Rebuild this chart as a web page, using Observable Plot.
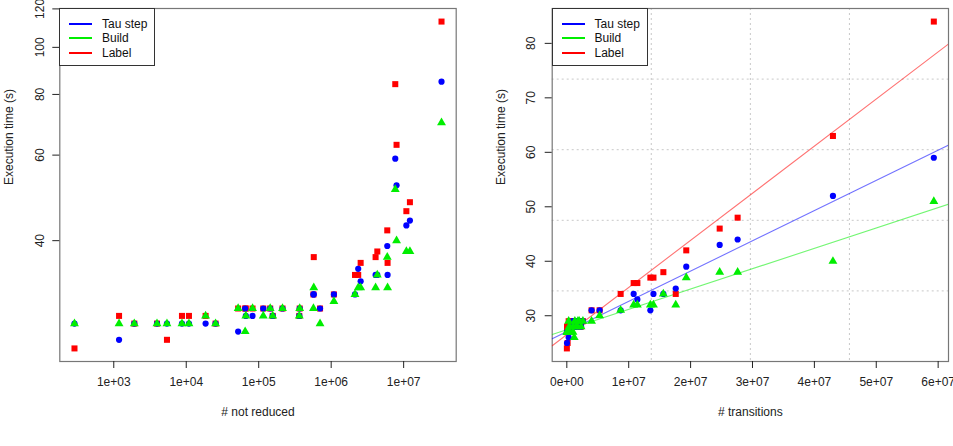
<!DOCTYPE html>
<html>
<head>
<meta charset="utf-8">
<script src="https://cdn.jsdelivr.net/npm/d3@7"></script>
<script src="https://cdn.jsdelivr.net/npm/@observablehq/plot@0.6"></script>
<style>
  body { margin: 0; background: #fff; font-family: "Liberation Sans", Arial, sans-serif; }
  #wrap { position: relative; width: 953px; height: 446px; overflow: hidden; }
  .panel { position: absolute; top: 0; }
  .legend { position: absolute; top: 8px; width: 96px; height: 58px; border: 1px solid #333;
            background: #fff; box-sizing: border-box; font-size: 12px; color: #111; }
  .legend .row { position: absolute; left: 9px; height: 14px; display: flex; align-items: center; }
  .legend .sw { width: 23px; height: 2px; margin-right: 10px; }
</style>
</head>
<body>
<div id="wrap"></div>
<script>
// One entry per benchmark run
const notReduced = [287, 1183, 1920, 3950, 5420, 8730, 10900, 18500, 25400, 52000, 66400, 65000,
  82200, 115600, 144000, 156000, 213000, 368000, 363000, 569000, 575000, 702000, 1090000,
  2130000, 2360000, 2550000, 4100000, 4330000, 5940000, 6000000, 7660000, 7980000,
  10900000, 12200000, 33300000];
const transitions = [1e4, 3e4, 5e4, 1e5, 1.3e5, 2e5, 2.5e5, 4e5, 5e5, 3e5, 1.0e6, 1.2e6,
  1.3e6, 1.5e6, 1.8e6, 1.7e6, 2.0e6, 2.6e6, 2.3e6, 4.0e6, 1.35e7, 1.0e6, 5.3e6,
  8.7e6, 1.76e7, 1.14e7, 1.40e7, 1.56e7, 1.93e7, 1.08e7, 5.93e7, 4.30e7,
  2.47e7, 2.76e7, null];
const tauStep = [27, 25, 27, 27, 27, 27, 27, 27, 27, 26, 28, 29, 28, 29, 29, 28, 29, 29, 28,
  31, 31, 29, 31, 31, 35, 33, 34, 34, 39, 34, 59, 52, 43, 44, 85];
const build = [27, 27, 27, 27, 27, 27, 27, 28, 27, 29, 28, 26, 29, 28, 29, 28, 29, 29, 28,
  29, 32, 27, 30, 31, 32, 32, 32, 34, 37, 32, 51, 40, 38, 38, 70];
const label = [24, 28, 27, 27, 25, 28, 28, 28, 27, 29, 29, 29, 29, 29, 29, 28, 29, 29, 28,
  31, 37, 29, 31, 34, 34, 36, 37, 38, 42, 36, 84, 63, 46, 48, 113];

const seriesNames = ["Tau step", "Build", "Label"];
const seriesColors = ["blue", "#00ee00", "red"];
const seriesSymbols = ["circle", "triangle", "square"];

const leftXTicks = [1e3, 1e4, 1e5, 1e6, 1e7];
const leftXTickLabels = ["1e+03", "1e+04", "1e+05", "1e+06", "1e+07"];
const leftYTicks = [40, 60, 80, 100, 120];
const rightXTicks = [0, 1e7, 2e7, 3e7, 4e7, 5e7, 6e7];
const rightXTickLabels = ["0e+00", "1e+07", "2e+07", "3e+07", "4e+07", "5e+07", "6e+07"];
const rightYTicks = [30, 40, 50, 60, 70, 80];

const yLabel = "Execution time (s)";
const leftXLabel = "# not reduced";
const rightXLabel = "# transitions";

const runs = notReduced.map((nr, i) => ({
  nr, tr: transitions[i], tau: tauStep[i], build: build[i], label: label[i]
}));
const runsWithTr = runs.filter(d => d.tr != null);
const keys = ["tau", "build", "label"];

// R-style axis range: data extent padded by 4% on each side
function pad(lo, hi) { const r = hi - lo; return [lo - 0.04 * r, hi + 0.04 * r]; }
function padLog(lo, hi) { return pad(Math.log10(lo), Math.log10(hi)).map(v => 10 ** v); }

const allTimesLeft = runs.flatMap(d => keys.map(k => d[k]));
const allTimesRight = runsWithTr.flatMap(d => keys.map(k => d[k]));
const lxDom = padLog(d3.min(notReduced), d3.max(notReduced));
const lyDom = padLog(d3.min(allTimesLeft), d3.max(allTimesLeft));
const rxDom = pad(d3.min(runsWithTr, d => d.tr), d3.max(runsWithTr, d => d.tr));
const ryDom = pad(d3.min(allTimesRight), d3.max(allTimesRight));

const font = "Liberation Sans, Arial, sans-serif";
const style = { fontFamily: font, fontSize: "12px", color: "#222", background: "white", overflow: "visible" };
const H = 446;

// Draw order: Label, then Tau step, then Build on top
const drawOrder = [2, 0, 1];
const symR = { circle: 3.1, square: 3.4, triangle: 3.3 };

function pointMarks(data, xKey) {
  return drawOrder.map(s => Plot.dot(data, {
    x: xKey, y: keys[s], symbol: seriesSymbols[s], fill: seriesColors[s],
    r: symR[seriesSymbols[s]], stroke: null
  }));
}

// Left panel: log-log
const left = Plot.plot({
  width: 476, height: H,
  marginLeft: 59.3, marginRight: 20.3, marginTop: 8, marginBottom: 85,
  style,
  x: { type: "log", domain: lxDom },
  y: { type: "log", domain: lyDom },
  marks: [
    Plot.frame({ stroke: "#777", strokeWidth: 1.2 }),
    Plot.axisX({ ticks: leftXTicks, tickSize: 7, tickPadding: 9, fontSize: 12, label: null,
      tickFormat: d => leftXTickLabels[leftXTicks.indexOf(d)] }),
    Plot.axisY({ ticks: leftYTicks, tickSize: 7, tickFormat: () => "", label: null }),
    Plot.text(leftYTicks, { x: lxDom[0], y: d => d, text: d => String(d), rotate: -90,
      dx: -20, fontSize: 12, textAnchor: "middle", lineAnchor: "middle", clip: false }),
    Plot.text([yLabel], { frameAnchor: "left", dx: -51, rotate: -90, fontSize: 12, lineAnchor: "middle" }),
    Plot.text([leftXLabel], { frameAnchor: "bottom", dy: 50.7, fontSize: 12, lineAnchor: "middle" }),
    ...pointMarks(runs, "nr")
  ]
});

// Least-squares line for each series
function fit(key) {
  const mx = d3.mean(runsWithTr, d => d.tr), my = d3.mean(runsWithTr, d => d[key]);
  const sxy = d3.sum(runsWithTr, d => (d.tr - mx) * (d[key] - my));
  const sxx = d3.sum(runsWithTr, d => (d.tr - mx) ** 2);
  const b = sxy / sxx, a = my - b * mx;
  return rxDom.map(x => ({ x, y: a + b * x }));
}

const gridX = [1, 2, 3].map(k => rxDom[0] + k * (rxDom[1] - rxDom[0]) / 4);
const gridY = [1, 2, 3, 4].map(k => ryDom[0] + k * (ryDom[1] - ryDom[0]) / 5);

const right = Plot.plot({
  width: 477, height: H,
  marginLeft: 75.7, marginRight: 5, marginTop: 8, marginBottom: 85,
  style,
  x: { type: "linear", domain: rxDom },
  y: { type: "linear", domain: ryDom },
  marks: [
    Plot.ruleX(gridX, { stroke: "#c8c8c8", strokeDasharray: "2,3" }),
    Plot.ruleY(gridY, { stroke: "#c8c8c8", strokeDasharray: "2,3" }),
    Plot.frame({ stroke: "#777", strokeWidth: 1.2 }),
    Plot.axisX({ ticks: rightXTicks, tickSize: 7, tickPadding: 9, fontSize: 12, label: null,
      tickFormat: d => rightXTickLabels[rightXTicks.indexOf(d)] }),
    Plot.axisY({ ticks: rightYTicks, tickSize: 7, tickFormat: () => "", label: null }),
    Plot.text(rightYTicks, { x: rxDom[0], y: d => d, text: d => String(d), rotate: -90,
      dx: -21.5, fontSize: 12, textAnchor: "middle", lineAnchor: "middle" }),
    Plot.text([yLabel], { frameAnchor: "left", dx: -51, rotate: -90, fontSize: 12, lineAnchor: "middle" }),
    Plot.text([rightXLabel], { frameAnchor: "bottom", dy: 50.7, fontSize: 12, lineAnchor: "middle" }),
    ...[2, 0, 1].map(s => Plot.line(fit(keys[s]), { x: "x", y: "y", stroke: seriesColors[s],
      strokeOpacity: 0.55, strokeWidth: 1.1, clip: true })),
    ...pointMarks(runsWithTr, "tr")
  ]
});

const wrap = document.getElementById("wrap");
function place(node, x) {
  const div = document.createElement("div");
  div.className = "panel";
  div.style.left = x + "px";
  div.appendChild(node);
  wrap.appendChild(div);
}
place(left, 0);
place(right, 476);

function legend(x) {
  const box = document.createElement("div");
  box.className = "legend";
  box.style.left = x + "px";
  seriesNames.forEach((name, i) => {
    const row = document.createElement("div");
    row.className = "row";
    row.style.top = (8 + i * 14.3) + "px";
    const sw = document.createElement("span");
    sw.className = "sw";
    sw.style.background = seriesColors[i];
    const t = document.createElement("span");
    t.textContent = name;
    row.appendChild(sw);
    row.appendChild(t);
    box.appendChild(row);
  });
  wrap.appendChild(box);
}
legend(59);
legend(551.5);
</script>
</body>
</html>
